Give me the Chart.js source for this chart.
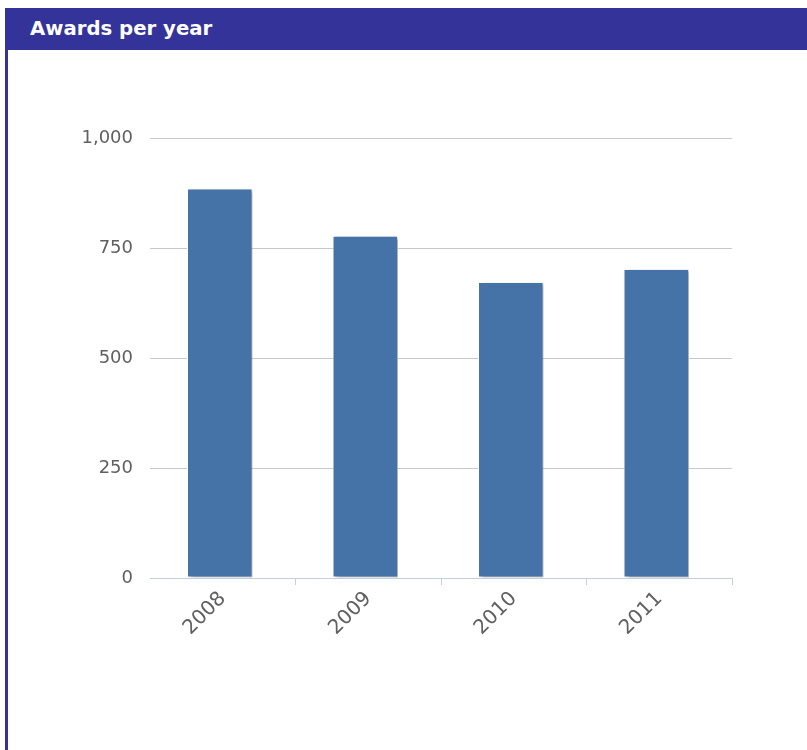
<!DOCTYPE html>
<html>
<head>
<meta charset="utf-8">
<script src="https://cdn.jsdelivr.net/npm/chart.js@4"></script>
<style>
  body { margin: 0; background: #fff; width: 807px; height: 750px; overflow: hidden; position: relative; }
  .header { position: absolute; left: 5px; top: 8px; width: 802px; height: 42px; background: #333399;
    color: #fff; font: bold 19.7px "DejaVu Sans", sans-serif; line-height: 42px; box-sizing: border-box; padding-left: 25px; }
  .border { position: absolute; left: 5px; top: 50px; width: 3px; height: 700px; background: #333399; }
  .chart { position: absolute; left: 0; top: 0; width: 807px; height: 750px; }
</style>
</head>
<body>
<div class="chart"><canvas id="awards" width="807" height="750"></canvas></div>
<div class="header">Awards per year</div>
<div class="border"></div>
<script>
// chart data
const years = ["2008", "2009", "2010", "2011"];
const awards = [885, 778, 673, 702];
const yTicks = [0, 250, 500, 750, 1000];

const ctx = document.querySelector("#awards");

// soft shadow behind the bars, bars sit a little left of the category centre
const barShadow = {
  id: "barShadow",
  beforeDatasetsDraw(chart) {
    const c = chart.ctx;
    c.save();
    c.translate(-3, 0);
    c.shadowColor = "rgba(0,0,0,0.35)";
    c.shadowOffsetX = 3;
    c.shadowOffsetY = 1;
    c.shadowBlur = 3;
  },
  afterDatasetsDraw(chart) {
    chart.ctx.restore();
  }
};

new Chart(ctx, {
  type: "bar",
  data: {
    labels: years,
    datasets: [
      {
        label: "Awards",
        data: awards,
        backgroundColor: "#4572A7",
        borderColor: "#ffffff",
        borderWidth: 1,
        borderSkipped: false,
        barPercentage: 0.45,
        categoryPercentage: 1,
      },
    ],
  },
  options: {
    responsive: false,
    animation: false,
    devicePixelRatio: 1,
    layout: { padding: { left: 60, right: 75, top: 138, bottom: 72 } },
    plugins: { legend: { display: false }, tooltip: { enabled: false } },
    scales: {
      y: {
        min: 0,
        max: 1000,
        afterBuildTicks: (scale) => { scale.ticks = yTicks.map(v => ({ value: v })); },
        afterFit: (scale) => { scale.width = 90; },
        border: { display: false },
        grid: { color: "#c8c8c8", drawTicks: false },
        ticks: {
          color: "#606060",
          padding: 17,
          font: { family: "DejaVu Sans", size: 18 },
        },
      },
      x: {
        afterFit: (scale) => { scale.height = 100; },
        border: { color: "#c0d0e0", width: 1 },
        grid: {
          offset: true,
          drawOnChartArea: false,
          tickLength: 7,
          color: (c) => (c.index === 0 ? "rgba(0,0,0,0)" : "#c0d0e0"),
        },
        ticks: {
          color: "#606060",
          minRotation: 45,
          maxRotation: 45,
          padding: 2,
          font: { family: "DejaVu Sans", size: 20 },
        },
      },
    },
  },
  plugins: [barShadow],
});
</script>
</body>
</html>
